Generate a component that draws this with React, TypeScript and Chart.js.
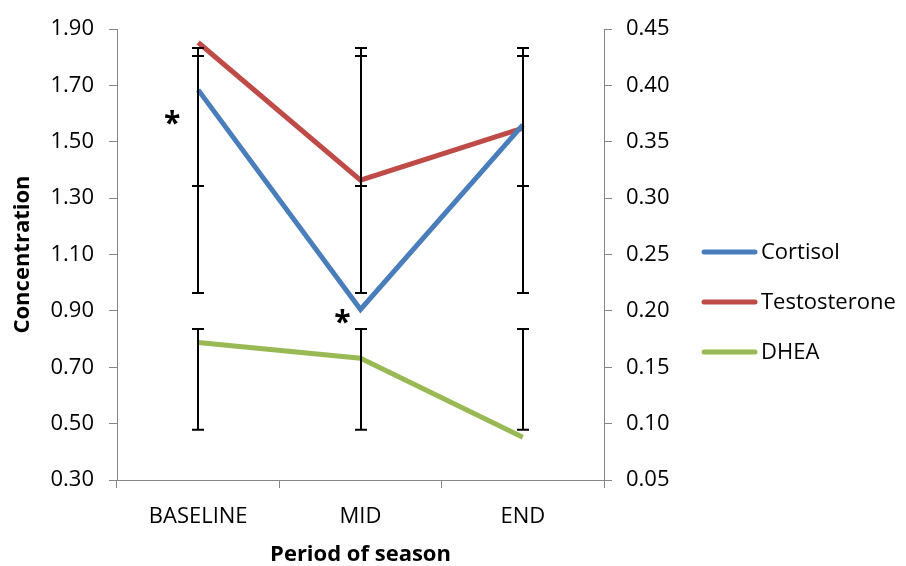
import React, { useEffect, useRef } from "react";
import { Chart, registerables } from "chart.js";

Chart.register(...registerables);

const categories = ["BASELINE", "MID", "END"];
const cortisol = [1.684, 0.905, 1.56];
const testosterone = [0.438, 0.316, 0.362];
const dhea = [0.172, 0.158, 0.088];

// error bar ranges, in left-axis units
const cortisolErrLow = [0.963, 0.963, 0.963];
const cortisolErrHigh = [1.804, 1.804, 1.804];
const testosteroneErrLow = [1.343, 1.343, 1.343];
const testosteroneErrHigh = [1.833, 1.833, 1.833];
const dheaErrLow = [0.478, 0.478, 0.478];
const dheaErrHigh = [0.836, 0.836, 0.836];

// significance markers (category index, left-axis value)
const starCategory = [0, 1];
const starValue = [1.584, 0.875];
const starOffsetX = [-26, -18];

const leftTicks = [0.3, 0.5, 0.7, 0.9, 1.1, 1.3, 1.5, 1.7, 1.9];
const rightTicks = [0.05, 0.1, 0.15, 0.2, 0.25, 0.3, 0.35, 0.4, 0.45];

const FONT = "'Open Sans', 'Noto Sans', sans-serif";
const FS = 22;

const overlayPlugin = {
  id: "overlay",
  afterDatasetsDraw(chart: any) {
    const ctx = chart.ctx;
    const x = chart.scales.x;
    const y = chart.scales.y;
    const groups = [
      [cortisolErrLow, cortisolErrHigh],
      [testosteroneErrLow, testosteroneErrHigh],
      [dheaErrLow, dheaErrHigh],
    ];
    ctx.save();
    ctx.strokeStyle = "#000";
    ctx.lineWidth = 2;
    groups.forEach(([lo, hi]) => {
      categories.forEach((_, i) => {
        const px = Math.round(x.getPixelForValue(i));
        const y1 = y.getPixelForValue(lo[i]);
        const y2 = y.getPixelForValue(hi[i]);
        ctx.beginPath();
        ctx.moveTo(px, y1);
        ctx.lineTo(px, y2);
        ctx.moveTo(px - 6, y1);
        ctx.lineTo(px + 6, y1);
        ctx.moveTo(px - 6, y2);
        ctx.lineTo(px + 6, y2);
        ctx.stroke();
      });
    });
    ctx.fillStyle = "#000";
    ctx.font = "bold 30px " + FONT;
    ctx.textAlign = "center";
    ctx.textBaseline = "middle";
    starCategory.forEach((c, i) => {
      const px = x.getPixelForValue(c) + starOffsetX[i];
      const py = y.getPixelForValue(starValue[i]);
      ctx.fillText("*", px, py + 6);
    });

    // legend
    const lx = chart.chartArea.right + 98;
    const ly = 252;
    ctx.lineCap = "round";
    ctx.lineWidth = 5;
    ctx.font = FS + "px " + FONT;
    ctx.textAlign = "left";
    chart.data.datasets.forEach((d: any, i: number) => {
      const yy = ly + i * 50;
      ctx.strokeStyle = d.borderColor;
      ctx.beginPath();
      ctx.moveTo(lx + 2, yy);
      ctx.lineTo(lx + 53, yy);
      ctx.stroke();
      ctx.fillStyle = "#000";
      ctx.fillText(d.label, lx + 59, yy + 1);
    });
    ctx.restore();
  },
};

export default function App() {
  const ref = useRef<HTMLCanvasElement>(null);
  useEffect(() => {
    if (!ref.current) return;
    const chart = new Chart(ref.current, {
      type: "line",
      data: {
        labels: categories,
        datasets: [
          {
            label: "Cortisol",
            data: cortisol,
            borderColor: "#4A7EBB",
            backgroundColor: "#4A7EBB",
            borderWidth: 5,
            pointRadius: 0,
            yAxisID: "y",
          },
          {
            label: "Testosterone",
            data: testosterone,
            borderColor: "#BE4B48",
            backgroundColor: "#BE4B48",
            borderWidth: 5,
            pointRadius: 0,
            yAxisID: "y1",
          },
          {
            label: "DHEA",
            data: dhea,
            borderColor: "#98B954",
            backgroundColor: "#98B954",
            borderWidth: 5,
            pointRadius: 0,
            yAxisID: "y1",
          },
        ],
      },
      options: {
        animation: false,
        responsive: false,
        layout: { padding: { top: 29, left: 0, right: 214, bottom: 0 } },
        plugins: {
          tooltip: { enabled: false },
          legend: { display: false },
        },
        scales: {
          x: {
            type: "category",
            offset: true,
            afterFit: (s: any) => {
              s.height = 86;
            },
            border: { color: "#868686", width: 1 },
            grid: {
              display: true,
              drawOnChartArea: false,
              offset: true,
              tickLength: 8,
              color: "#868686",
            },
            ticks: {
              color: "#000",
              font: { family: FONT, size: FS },
              padding: 16,
            },
            title: {
              display: true,
              text: "Period of season",
              color: "#000",
              font: { family: FONT, size: FS, weight: "bold", lineHeight: 1.0 },
              padding: { top: 0, bottom: 0 },
            },
          },
          y: {
            type: "linear",
            position: "left",
            min: 0.3,
            max: 1.9,
            afterBuildTicks: (s: any) => {
              s.ticks = leftTicks.map((v) => ({ value: v }));
            },
            afterFit: (s: any) => {
              s.width = 117;
            },
            border: { color: "#868686", width: 1 },
            grid: {
              drawOnChartArea: false,
              tickLength: 8,
              color: "#868686",
            },
            ticks: {
              color: "#000",
              font: { family: FONT, size: FS },
              padding: 15,
              callback: (v: any) => Number(v).toFixed(2),
            },
            title: {
              display: true,
              text: "Concentration",
              color: "#000",
              font: { family: FONT, size: FS, weight: "bold", lineHeight: 1.0 },
              padding: { top: 12, bottom: 0 },
            },
          },
          y1: {
            type: "linear",
            position: "right",
            min: 0.05,
            max: 0.45,
            afterBuildTicks: (s: any) => {
              s.ticks = rightTicks.map((v) => ({ value: v }));
            },
            afterFit: (s: any) => {
              s.width = 88;
            },
            border: { color: "#868686", width: 1 },
            grid: {
              drawOnChartArea: false,
              tickLength: 8,
              color: "#868686",
            },
            ticks: {
              color: "#000",
              font: { family: FONT, size: FS },
              padding: 14,
              callback: (v: any) => Number(v).toFixed(2),
            },
          },
        },
      },
      plugins: [overlayPlugin],
    });
    return () => chart.destroy();
  }, []);
  return (
    <div style={{ position: "absolute", left: 0, top: 0, width: 906, height: 566, background: "#fff" }}>
      <canvas ref={ref} width={906} height={566} />
    </div>
  );
}
